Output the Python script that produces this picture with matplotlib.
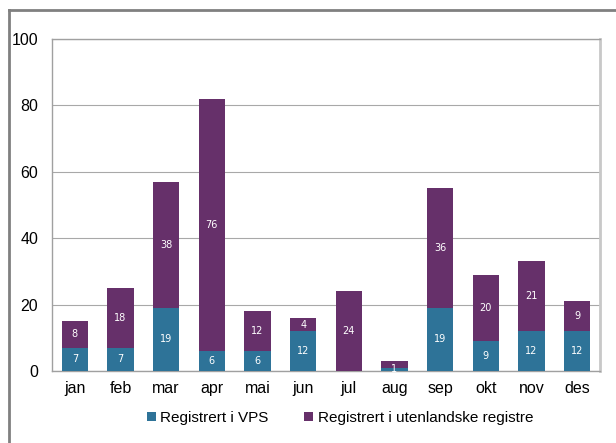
import numpy as np
import matplotlib.pyplot as plt
from matplotlib.lines import Line2D

plt.rcParams["font.family"] = ["Liberation Sans", "DejaVu Sans"]

months = ["jan", "feb", "mar", "apr", "mai", "jun", "jul", "aug", "sep", "okt", "nov", "des"]
vps = [7, 7, 19, 6, 6, 12, 0, 1, 19, 9, 12, 12]
foreign = [8, 18, 38, 76, 12, 4, 24, 2, 36, 20, 21, 9]
show_vps = [True, True, True, True, True, True, False, True, True, True, True, True]
show_foreign = [True, True, True, True, True, True, True, False, True, True, True, True]

c_vps = "#2E7398"
c_for = "#66306A"

fig = plt.figure(figsize=(6.16, 4.43), dpi=100)
ax = fig.add_axes([52 / 616, 1 - 371 / 443, 548 / 616, 332 / 443])

x = np.arange(len(months))
w = 0.57
b1 = ax.bar(x, vps, w, color=c_vps, label="Registrert i VPS", zorder=3)
b2 = ax.bar(x, foreign, w, bottom=vps, color=c_for,
            label="Registrert i utenlandske registre", zorder=3)

for i in range(len(months)):
    if show_vps[i]:
        ax.text(x[i], vps[i] / 2, str(vps[i]), ha="center", va="center",
                color="white", fontsize=7, family="DejaVu Sans", zorder=4)
    if show_foreign[i]:
        ax.text(x[i], vps[i] + foreign[i] / 2, str(foreign[i]), ha="center",
                va="center", color="white", fontsize=7, family="DejaVu Sans", zorder=4)

ax.set_xlim(-0.5, len(months) - 0.5)
ax.set_ylim(0, 100)
ax.set_yticks(range(0, 101, 20))
ax.set_xticks(x)
ax.set_xticklabels(months)
ax.tick_params(length=0, labelsize=11.5, pad=7)
ax.tick_params(axis="y", pad=10)
ax.grid(axis="y", color="#A8A8A8", linewidth=0.8, zorder=0)
for s in ax.spines.values():
    s.set_color("#A0A0A0")
    s.set_linewidth(1)
ax.spines["right"].set_linewidth(2)
ax.spines["right"].set_color("#C8C8C8")

fig.legend(handles=[b1, b2], loc="center", bbox_to_anchor=(340 / 616, 1 - 418 / 443),
           ncol=2, frameon=False, fontsize=11, handlelength=0.6, handleheight=0.6,
           handletextpad=0.3, columnspacing=2.3)

fig.add_artist(Line2D([9 / 616, 9 / 616], [0, 1 - 10 / 443], color="#808080", lw=2))
fig.add_artist(Line2D([9 / 616, 1], [1 - 10 / 443, 1 - 10 / 443], color="#808080", lw=2))

fig.savefig("out.png")
